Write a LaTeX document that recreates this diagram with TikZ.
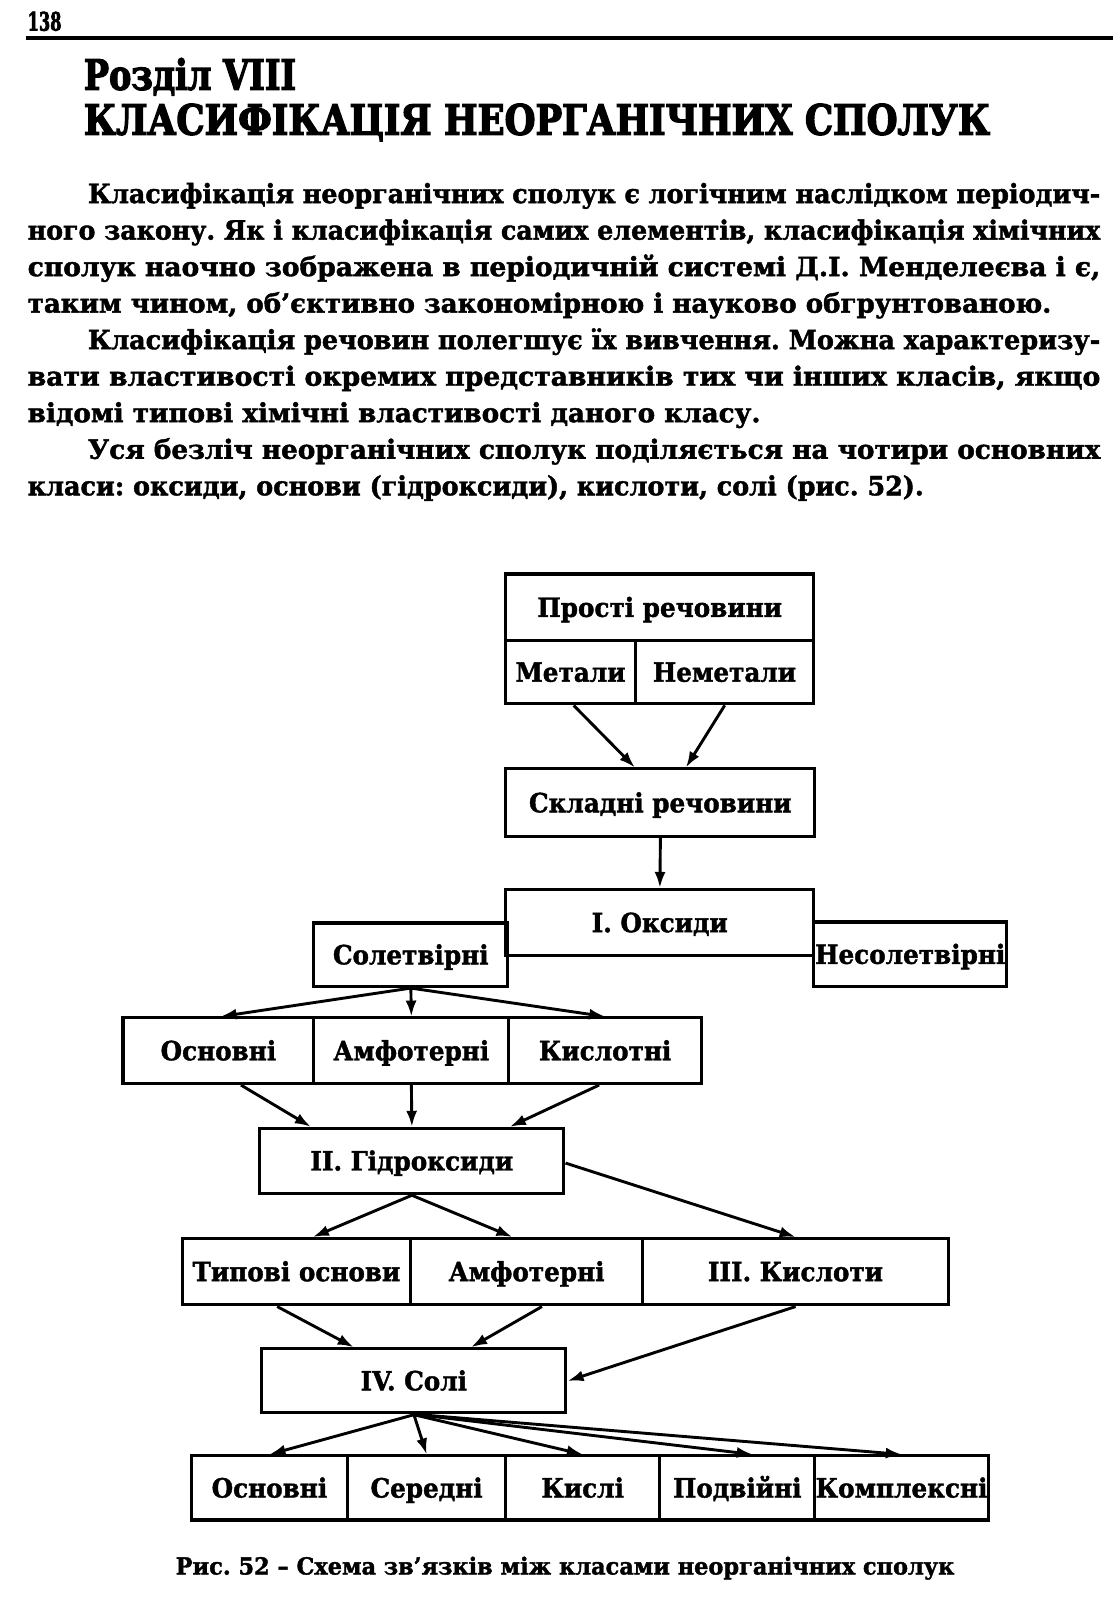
\documentclass[tikz,border=0pt]{standalone}
\usepackage{fontspec}
\setmainfont{DejaVu Serif}[FakeStretch=0.86, BoldFeatures={FakeBold=1.5}]
\newfontfamily\boxfam{DejaVu Serif}[FakeStretch=0.93, BoldFeatures={FakeBold=1.5}]
\newfontfamily\titlefam{DejaVu Serif}[FakeStretch=0.86, BoldFeatures={FakeBold=3}]
\usepackage{graphicx}
\usetikzlibrary{arrows.meta}
\frenchspacing
\newcommand\bodyfnt{\fontsize{26}{30}\selectfont\bfseries}
\newcommand\boxfnt{\boxfam\fontsize{26}{30}\selectfont\bfseries}
\newcommand\titlefnt{\titlefam\fontsize{41}{44}\selectfont\bfseries}
\newcommand\fitw[2]{\resizebox{#1}{\height}{#2}}
\tikzset{
  box/.style={draw, line width=3.1pt, rectangle, inner sep=0pt, anchor=north west,
    font=\boxfnt, text height=19pt, text depth=0pt},
  arr/.style={line width=2.9pt, -{Latex[length=16pt,width=11pt]}},
  txt/.style={inner sep=0pt, anchor=base west, font=\bodyfnt},
}
\begin{document}
\begin{tikzpicture}[x=1pt,y=-1pt,scale=1.0204,transform shape]
\useasboundingbox[fill=white] (0,0) rectangle (1090.7,1568);
% header
\node[txt, font=\titlefam\fontsize{25}{28}\selectfont\bfseries] (pg) at (27,30) {\fitw{33pt}{138}};
\coordinate (rl) at (25,37); \coordinate (rr) at (1090,37);
\draw[line width=4pt] (rl) -- (rr);
% title
\node[txt, font=\titlefnt] (t1) at (82,88) {\fitw{208pt}{Розділ VIII}};
\node[txt, font=\titlefnt] (t2) at (82,132) {\fitw{888pt}{КЛАСИФІКАЦІЯ НЕОРГАНІЧНИХ СПОЛУК}};
% body
\node[txt] (l1) at (86,199) {\fitw{992pt}{Класифікація неорганічних сполук є логічним наслідком періодич-}};
\node[txt] (l2) at (27,234.8) {\fitw{1051pt}{ного закону. Як і класифікація самих елементів, класифікація хімічних}};
\node[txt] (l3) at (27,270.6) {\fitw{1051pt}{сполук наочно зображена в періодичній системі Д.І. Менделеєва і є,}};
\node[txt] (l4) at (27,306.4) {\fitw{1003pt}{таким чином, об’єктивно закономірною і науково обгрунтованою.}};
\node[txt] (l5) at (86,342.2) {\fitw{992pt}{Класифікація речовин полегшує їх вивчення. Можна характеризу-}};
\node[txt] (l6) at (27,378) {\fitw{1051pt}{вати властивості окремих представників тих чи інших класів, якщо}};
\node[txt] (l7) at (27,413.8) {\fitw{718pt}{відомі типові хімічні властивості даного класу.}};
\node[txt] (l8) at (86,449.6) {\fitw{992pt}{Уся безліч неорганічних сполук поділяється на чотири основних}};
\node[txt] (l9) at (27,485.4) {\fitw{878pt}{класи: оксиди, основи (гідроксиди), кислоти, солі (рис. 52).}};
% diagram boxes
\node[box, minimum width=302pt, minimum height=65pt] (prosti) at (494,561) {Прості речовини};
\node[box, minimum width=127pt, minimum height=62pt] (metaly) at (494,626) {Метали};
\node[box, minimum width=175pt, minimum height=62pt] (nemet) at (621,626) {Неметали};
\node[box, minimum width=303pt, minimum height=66pt] (skladni) at (494,752) {Складні речовини};
\node[box, minimum width=302pt, minimum height=65pt] (oksydy) at (494,870) {I. Оксиди};
\node[box, minimum width=190pt, minimum height=62pt] (solet) at (306,903) {Солетвірні};
\node[box, minimum width=189pt, minimum height=63pt] (nesolet) at (796,902) {Несолетвірні};
\node[box, minimum width=187pt, minimum height=64pt] (osn1) at (119,996) {Основні};
\node[box, minimum width=191pt, minimum height=64pt] (amf1) at (306,996) {Амфотерні};
\node[box, minimum width=189pt, minimum height=64pt] (kysl1) at (497,996) {Кислотні};
\node[box, minimum width=298pt, minimum height=64pt] (hidr) at (253,1104) {II. Гідроксиди};
\node[box, minimum width=224pt, minimum height=65pt] (typ) at (177,1212) {Типові основи};
\node[box, minimum width=227pt, minimum height=65pt] (amf2) at (401,1212) {Амфотерні};
\node[box, minimum width=300pt, minimum height=65pt] (kyslot) at (628,1212) {III. Кислоти};
\node[box, minimum width=298pt, minimum height=63pt] (soli) at (255,1320) {IV. Солі};
\node[box, minimum width=153pt, minimum height=63pt] (osn2) at (186,1425) {Основні};
\node[box, minimum width=155pt, minimum height=63pt] (sered) at (339,1425) {Середні};
\node[box, minimum width=151pt, minimum height=63pt] (kysli) at (494,1425) {Кислі};
\node[box, minimum width=152pt, minimum height=63pt] (podv) at (645,1425) {Подвійні};
\node[box, minimum width=170pt, minimum height=63pt] (kompl) at (797,1425) {Комплексні};
% arrows
\draw[arr] ([xshift=3pt]metaly.south) -- ([xshift=-25pt]skladni.north);
\draw[arr] ([xshift=0pt]nemet.south) -- ([xshift=25pt]skladni.north);
\draw[arr] (skladni.south) -- (oksydy.north);
\draw[arr] (solet.south) -- ([xshift=2pt]osn1.north);
\draw[arr] (solet.south) -- (amf1.north);
\draw[arr] (solet.south) -- (kysl1.north);
\draw[arr] ([xshift=22pt]osn1.south) -- ([xshift=-99pt]hidr.north);
\draw[arr] (amf1.south) -- (hidr.north);
\draw[arr] ([xshift=-6pt]kysl1.south) -- ([xshift=96pt]hidr.north);
\draw[arr] (hidr.south) -- ([xshift=16pt]typ.north);
\draw[arr] (hidr.south) -- ([xshift=-14pt]amf2.north);
\draw[arr] ([yshift=-2pt]hidr.east) -- (kyslot.north);
\draw[arr] ([xshift=-19pt]typ.south) -- ([xshift=-59pt]soli.north);
\draw[arr] ([xshift=15pt]amf2.south) -- ([xshift=56pt]soli.north);
\draw[arr] (kyslot.south) -- (soli.east);
\draw[arr] (soli.south) -- (osn2.north);
\draw[arr] (soli.south) -- (sered.north);
\draw[arr] (soli.south) -- (kysli.north);
\draw[arr] ([xshift=4pt]soli.south) -- ([xshift=15pt]podv.north);
\draw[arr] ([xshift=6pt]soli.south) -- (kompl.north);
% caption
\node[txt, font=\boxfam\fontsize{23}{26}\selectfont\bfseries] (cap) at (172,1543) {\fitw{763pt}{Рис. 52 – Схема зв’язків між класами неорганічних сполук}};
\end{tikzpicture}
\end{document}
